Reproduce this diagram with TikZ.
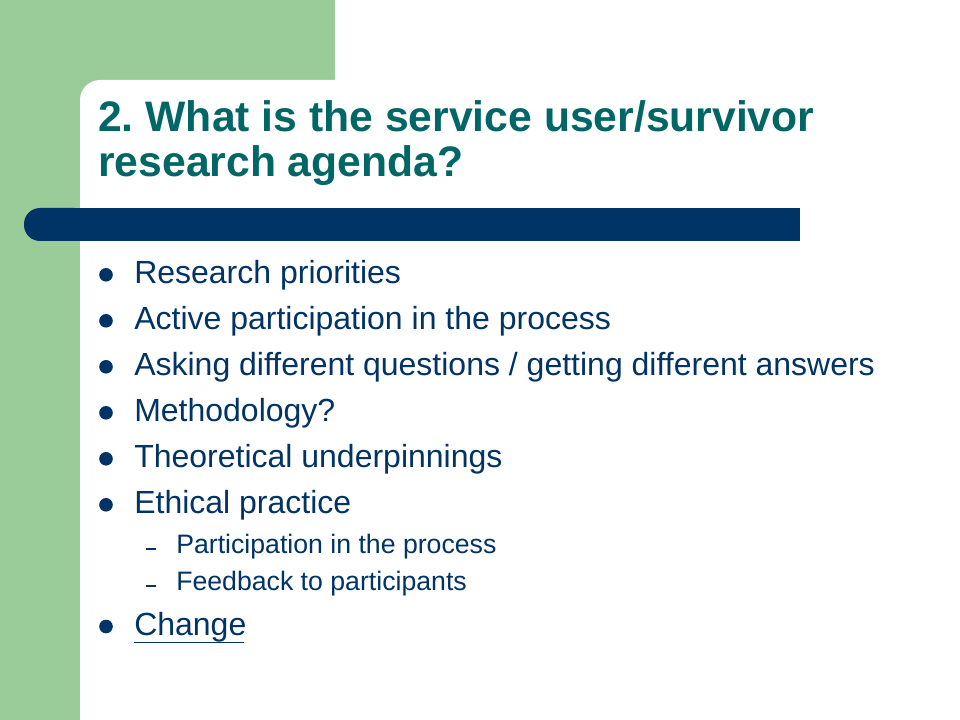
\documentclass[tikz,border=0pt]{standalone}
\usepackage{fontspec}
\setmainfont{Liberation Sans}
\frenchspacing
\definecolor{slidegreen}{RGB}{153,204,153}
\definecolor{titleteal}{RGB}{0,102,102}
\definecolor{navy}{RGB}{0,51,102}
\tikzset{
  titletext/.style={anchor=base west, inner sep=0pt, text=titleteal, font=\fontsize{32}{38}\selectfont\bfseries},
  bodytext/.style={anchor=base west, inner sep=0pt, text=navy, font=\fontsize{24}{28}\selectfont},
  subtext/.style={anchor=base west, inner sep=0pt, text=navy, font=\fontsize{20}{24}\selectfont},
  bulletdot/.style={fill=navy, draw=none},
}
\begin{document}
\begin{tikzpicture}[x=0.75pt,y=-0.75pt]
\useasboundingbox (0,0) rectangle (960,720);
\fill[white] (0,0) rectangle (960,720);
\begin{scope}
\clip (0,0) rectangle (960,720);
\fill[slidegreen] (0,0) rectangle (335,80);
\fill[slidegreen] (0,0) rectangle (80,720);
\fill[slidegreen] (80,80) rectangle (110,110);
\fill[white, rounded corners=15pt] (80,80) rectangle (1000,760);
\end{scope}
% blue bar
\fill[navy, rounded corners=12pt] (24,208) rectangle (90,241);
\fill[navy] (60,208) rectangle (800,241);
% title
\node[titletext] (t1) at (98,132) {2. What is the service user/survivor};
\node[titletext] (t2) at (98,177) {research agenda?};
% bullets
\foreach \i/\txt in {0/{Research priorities},1/{Active participation in the process},2/{Asking different questions / getting different answers},3/{Methodology?},4/{Theoretical underpinnings},5/{Ethical practice}}{
  \fill[bulletdot] (106,{283.3+46*\i-8.5}) circle[radius=5.1pt];
  \node[bodytext] (b\i) at (134,{283.3+46*\i}) {\txt};
}
\fill[navy] (146,547.5) rectangle (156,549.5);
\node[subtext] (s1) at (176,553.3) {Participation in the process};
\fill[navy] (146,584.5) rectangle (156,586.5);
\node[subtext] (s2) at (176,590.3) {Feedback to participants};
\fill[bulletdot] (106,626.5) circle[radius=5.1pt];
\node[bodytext] (b6) at (134,635) {Change};
\draw[navy, line width=1.3pt] (134,642.5) -- (243.5,642.5);
\end{tikzpicture}
\end{document}
